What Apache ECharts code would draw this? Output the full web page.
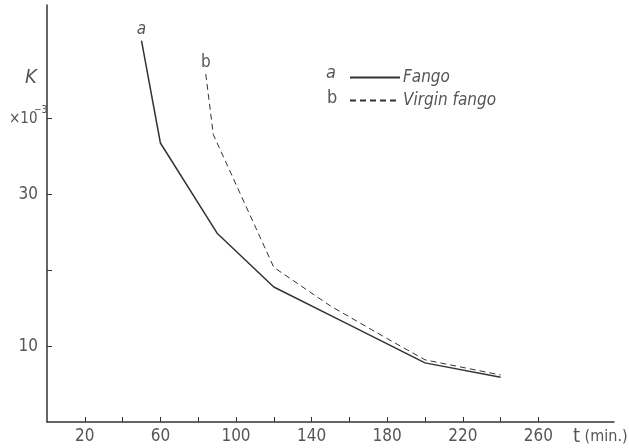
<!DOCTYPE html>
<html>
<head>
<meta charset="utf-8">
<script src="https://cdn.jsdelivr.net/npm/echarts@6/dist/echarts.min.js"></script>
<style>
  html, body { margin: 0; padding: 0; background: #fff; }
  #chart { width: 629px; height: 448px; }
</style>
</head>
<body>
<div id="chart"></div>
<script>
// curve a: Fango
const timeA = [50, 60, 90, 120, 160, 200, 240];
const kA = [50.3, 36.8, 24.9, 17.8, 12.8, 7.8, 5.9];
// curve b: Virgin fango
const timeB = [84, 88, 120, 150, 180, 200, 240];
const kB = [45.9, 37.9, 20.4, 15.3, 11.0, 8.2, 6.2];

const xTicks = [20, 40, 60, 80, 100, 120, 140, 160, 180, 200, 220, 240, 260];
const xLabels = [20, 60, 100, 140, 180, 220, 260];
const yTicks = [10, 20, 30, 40];
const yLabels = [10, 30];

const FONT = "'Liberation Sans Narrow', 'DejaVu Sans Condensed', sans-serif";
const INK = '#333';
const TEXT = '#555';

function toPoints(xs, ys, name, italic) {
  return xs.map((x, i) => {
    if (i === 0) {
      return {
        value: [x, ys[i]],
        symbol: 'circle',
        symbolSize: 0,
        label: {
          show: true,
          position: 'top',
          distance: 3,
          formatter: name,
          fontSize: 17,
          fontStyle: italic ? 'italic' : 'normal',
          fontFamily: FONT,
          color: TEXT,
        },
      };
    }
    return [x, ys[i]];
  });
}

const chart = echarts.init(document.getElementById('chart'));
chart.setOption({
  backgroundColor: '#fff',
  animation: false,
  grid: { left: 47, right: 15, top: 5, bottom: 26 },
  xAxis: {
    type: 'value',
    min: 0,
    max: 300,
    interval: 20,
    axisLine: { lineStyle: { color: INK, width: 1.5 } },
    axisTick: { inside: true, length: 5, customValues: xTicks, lineStyle: { color: INK } },
    axisLabel: {
      customValues: xLabels,
      margin: 6,
      fontSize: 17,
      fontFamily: FONT,
      color: TEXT,
    },
    splitLine: { show: false },
  },
  yAxis: {
    type: 'value',
    min: 0,
    max: 55,
    interval: 10,
    axisLine: { show: true, lineStyle: { color: INK, width: 1.5 } },
    axisTick: { show: true, inside: true, length: 5, customValues: yTicks, lineStyle: { color: INK } },
    axisLabel: {
      customValues: yLabels,
      margin: 9,
      fontSize: 17,
      fontFamily: FONT,
      color: TEXT,
    },
    splitLine: { show: false },
  },
  legend: {
    orient: 'vertical',
    left: 344,
    top: 64,
    itemWidth: 50,
    itemHeight: 10,
    itemGap: 6,
    data: ['Fango', 'Virgin fango'],
    itemStyle: { color: 'rgba(0,0,0,0)', borderWidth: 0 },
    textStyle: { fontSize: 17, fontFamily: FONT, color: TEXT, fontStyle: 'italic', padding: [0, 0, 0, -2] },
  },
  graphic: [
    { type: 'text', left: 326, top: 64, style: { text: 'a', fontSize: 18, fontStyle: 'italic', fontFamily: FONT, fill: TEXT } },
    { type: 'text', left: 327, top: 89, style: { text: 'b', fontSize: 18, fontFamily: FONT, fill: TEXT } },
    { type: 'text', left: 25, top: 68, style: { text: 'K', fontSize: 20, fontStyle: 'italic', fontFamily: FONT, fill: TEXT } },
    { type: 'text', left: 9, top: 112, style: { text: '×10', fontSize: 15, fontFamily: FONT, fill: TEXT } },
    { type: 'text', left: 34, top: 105, style: { text: '−3', fontSize: 10, fontFamily: FONT, fill: TEXT } },
    {
      type: 'text', left: 573, top: 427,
      style: {
        text: '{t|t}{u| (min.)}',
        rich: {
          t: { fontSize: 20, fontFamily: FONT, fill: TEXT },
          u: { fontSize: 16, fontFamily: FONT, fill: TEXT },
        },
      },
    },
  ],
  series: [
    {
      name: 'Fango',
      type: 'line',
      symbol: 'none',
      data: toPoints(timeA, kA, 'a', true),
      lineStyle: { color: INK, width: 1.5 },
      itemStyle: { color: INK },
    },
    {
      name: 'Virgin fango',
      type: 'line',
      symbol: 'none',
      data: toPoints(timeB, kB, 'b', false),
      lineStyle: { color: INK, width: 1, type: [6, 4] },
      itemStyle: { color: INK },
    },
  ],
});
</script>
</body>
</html>
